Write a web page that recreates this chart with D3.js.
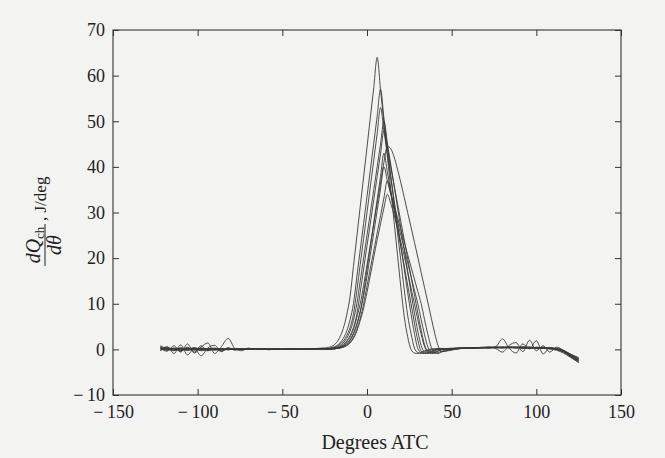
<!DOCTYPE html>
<html>
<head>
<meta charset="utf-8">
<script src="https://cdn.jsdelivr.net/npm/d3@7"></script>
<style>
  html, body { margin: 0; padding: 0; background: #f3f3f1; }
  svg { display: block; }
  .axis text { font-family: "Liberation Serif", "Times New Roman", serif; font-size: 18px; fill: #222; }
  .axis line { stroke: #333; }
  .axis path { display: none; }
  .label { font-family: "Liberation Serif", "Times New Roman", serif; fill: #222; }
</style>
</head>
<body>
<div class="chart"></div>
<script>
let outerWidth = 665
let outerHeight = 458

// crank angle grid (deg ATC), finer near the burn
const crankAngle = [-122, -118, -114, -110, -106, -102, -98, -94, -90, -86, -82, -78, -74, -70, -66, -62, -58, -54, -50, -46, -42, -38, -34, -30, -26,
  -24, -22, -20, -18, -16, -14, -12, -10, -8, -6, -4, -2, 0, 2, 4, 6, 8, 10, 12, 14, 16, 18, 20, 22, 24, 26, 28, 30, 32, 34, 36, 38, 40, 42, 44,
  48, 52, 56, 60, 64, 68, 72, 76, 80, 84, 88, 92, 96, 100, 104, 108, 112, 116, 120, 125]

// heat release rate, J/deg, one array per cycle
const cycle1 = [0.8, 0.1, -0.3, 0.4, -0.2, 0.3, 0.0, -0.3, 0.2, 0.1, -0.1, 0.2, 0.0, 0.1, 0.0, 0.1, 0.0, 0.1, 0.0, 0.1, 0.1, 0.0, 0.1, 0.2, 0.3,
  0.35, 0.5, 0.8, 1.5, 2.7, 4.6, 7.5, 11.6, 18.2, 24.7, 31.3, 37.8, 44.3, 50.9, 57.4, 64, 56.8, 49.6, 42.4, 35.2, 28, 20.8, 13.6, 7.2, 2.8, 0, -0.8, -0.9, -0.6, -0.3, -0.1, 0.1, 0.1, 0.2, 0.2,
  0.2, 0.3, 0.3, 0.4, 0.3, 0.4, 0.5, 0.4, 0.5, 0.4, 0.5, 0.3, 0.4, 0.3, 0.2, 0.3, 0.0, -0.4, -1.2, -2.2]
const cycle2 = [0.2, -0.4, 0.8, -0.6, 1.2, -0.8, 0.5, 1.4, -0.9, 0.6, 2.4, 0.2, -0.3, 0.3, 0.0, 0.2, -0.1, 0.1, 0.0, 0.1, 0.0, 0.1, 0.1, 0.1, 0.2,
  0.15, 0.25, 0.45, 0.8, 1.4, 2.4, 4, 6.5, 10, 15.9, 21.8, 27.6, 33.5, 39.4, 45.2, 51.1, 57, 50.7, 44.5, 38.2, 31.9, 25.7, 19.4, 13.1, 7.5, 3.5, 0.3, -0.7, -0.9, -0.6, -0.3, 0, 0.1, 0.1, 0.2,
  0.1, 0.2, 0.3, 0.4, 0.3, 0.5, 0.4, 0.6, 2.3, 0.2, -0.8, 1.2, 0.1, 1.9, -1.0, 0.4, 0.2, -0.3, -1.5, -2.6]
const cycle3 = [-0.2, 0.6, -0.9, 1.0, -1.2, 0.2, -1.4, 0.3, 0.9, -0.5, 0.4, -0.2, 0.2, 0.0, 0.1, 0.0, 0.1, 0.1, 0.0, 0.1, 0.0, 0.1, 0.0, 0.1, 0.2,
  0.1, 0.2, 0.35, 0.6, 1.1, 1.8, 3, 4.8, 7.7, 12.9, 18.6, 24.3, 30, 35.8, 41.5, 47.3, 53, 47.9, 42.9, 37.8, 32.8, 27.7, 22.6, 17.6, 12.5, 7.8, 3.5, 0.2, -0.7, -0.9, -0.6, -0.3, -0.1, 0.1, 0.1,
  0.0, 0.2, 0.2, 0.3, 0.4, 0.3, 0.5, 0.2, -0.6, 0.9, 1.5, -0.5, 2.0, -0.3, 0.8, -0.6, 0.5, -0.2, -1.0, -2.0]
const cycle4 = [0.5, 0.0, 0.2, -0.3, 0.3, 0.0, 0.2, -0.1, 0.1, 0.2, 0.0, 0.1, 0.1, 0.0, 0.1, 0.0, 0.0, 0.1, 0.0, 0.1, 0.0, 0.0, 0.1, 0.1, 0.2,
  0.1, 0.15, 0.25, 0.45, 0.8, 1.4, 2.4, 4, 6.4, 10, 15, 20, 25, 30, 35, 40, 45, 50, 45.3, 40.6, 35.9, 31.2, 26.5, 21.8, 17.1, 12.4, 8, 4, 0.8, -0.6, -0.9, -0.6, -0.3, 0, 0.1,
  0.1, 0.2, 0.3, 0.3, 0.4, 0.4, 0.3, 0.5, 0.4, 0.5, 0.3, 0.6, 0.4, 0.3, 0.5, 0.2, 0.1, -0.5, -1.4, -2.5]
const cycle5 = [-0.3, 0.3, 0.1, -0.4, 0.5, -0.6, 0.8, -0.3, 0.2, -0.4, 0.1, 0.0, 0.1, 0.0, 0.0, 0.1, 0.0, 0.0, 0.1, 0.0, 0.0, 0.1, 0.0, 0.1, 0.1,
  0.1, 0.1, 0.2, 0.35, 0.6, 1.1, 1.8, 3, 4.8, 7.7, 12.5, 17.6, 22.7, 27.7, 32.8, 37.9, 42.9, 48, 44, 40, 36, 32, 28, 24, 20, 16, 12, 8, 4.2, 1, -0.5, -0.9, -0.7, -0.4, -0.1,
  0.2, 0.1, 0.3, 0.3, 0.3, 0.4, 0.4, 0.3, 0.5, 0.4, 0.4, 0.5, 0.3, 0.4, 0.2, 0.3, 0.0, -0.6, -1.6, -2.8]
const cycle6 = [0.6, -0.1, 0.2, 0.0, -0.2, 0.1, 0.3, 0.0, -0.2, 0.0, 0.2, 0.1, 0.0, 0.1, 0.0, 0.1, 0.1, 0.0, 0.0, 0.1, 0.0, 0.0, 0.0, 0.1, 0.1,
  0.05, 0.1, 0.2, 0.3, 0.5, 0.9, 1.6, 2.7, 4.4, 7, 10, 14, 18.5, 23, 27.5, 32, 36.5, 41, 44.5, 44, 42.2, 39.5, 36.5, 33.3, 30, 26.8, 23.5, 20.2, 16.8, 13.5, 10.2, 6.8, 3.5, 0.8, -0.5,
  -0.3, 0.0, 0.2, 0.3, 0.3, 0.4, 0.5, 0.4, 0.3, 0.6, 0.4, 0.3, 0.5, 0.2, 0.4, 0.1, 0.2, -0.2, -1.0, -1.8]
const cycle7 = [0.0, 0.2, -0.2, 0.1, 0.0, 0.4, -0.1, 0.2, 0.0, -0.1, 0.1, 0.0, 0.1, 0.0, 0.1, 0.0, 0.0, 0.0, 0.1, 0.0, 0.1, 0.0, 0.0, 0.1, 0.1,
  0.05, 0.1, 0.1, 0.2, 0.4, 0.7, 1.2, 2, 3.4, 5.4, 8.2, 12.4, 17.5, 22.6, 27.7, 32.8, 37.9, 43, 38.9, 34.8, 30.6, 26.5, 22.4, 18.3, 14.1, 10, 5.8, 2, -0.4, -0.9, -0.8, -0.5, -0.2, 0, 0.1,
  0.2, 0.2, 0.3, 0.2, 0.4, 0.3, 0.4, 0.5, 0.4, 0.3, 0.5, 0.4, 0.2, 0.4, 0.3, 0.1, -0.2, -0.8, -1.7, -2.9]
const cycle8 = [0.4, -0.2, 0.3, 0.1, -0.1, 0.0, -0.3, 0.1, 0.3, 0.0, 0.0, 0.1, 0.0, 0.0, 0.1, 0.0, 0.1, 0.0, 0.0, 0.0, 0.1, 0.0, 0.0, 0.0, 0.1,
  0.05, 0.1, 0.1, 0.2, 0.4, 0.7, 1.2, 2.1, 3.5, 5.6, 8.3, 11.8, 16, 20.8, 25.6, 30.4, 35.2, 40, 37, 34, 31, 28, 25, 22, 19, 16, 13, 10, 6.5, 3.2, 0.5, -0.6, -0.9, -0.7, -0.4,
  -0.1, 0.1, 0.2, 0.3, 0.3, 0.4, 0.3, 0.4, 0.5, 0.4, 0.3, 0.4, 0.5, 0.3, 0.2, 0.3, 0.1, -0.4, -1.2, -2.3]
const cycle9 = [0.3, 0.0, 0.1, -0.2, 0.2, 0.1, -0.1, 0.0, 0.1, -0.2, 0.1, 0.0, 0.0, 0.1, 0.0, 0.0, 0.0, 0.1, 0.0, 0.0, 0.0, 0.0, 0.1, 0.0, 0.1,
  0.05, 0.1, 0.1, 0.2, 0.3, 0.5, 0.9, 1.6, 2.7, 4.4, 6.8, 10, 13.9, 17.8, 21.6, 25.5, 29.3, 33.2, 37, 34.3, 31.6, 28.9, 26.2, 23.5, 20.8, 18.1, 15.4, 12.7, 10, 6.5, 3.2, 0.4, -0.6, -0.9, -0.6,
  -0.2, 0.0, 0.2, 0.2, 0.3, 0.3, 0.4, 0.4, 0.3, 0.5, 0.4, 0.3, 0.4, 0.4, 0.3, 0.2, 0.0, -0.5, -1.3, -2.4]
const cycle10 = [0.1, 0.4, -0.1, 0.2, 0.1, -0.2, 0.2, 0.1, 0.0, 0.2, -0.1, 0.1, 0.0, 0.0, 0.0, 0.1, 0.0, 0.0, 0.0, 0.1, 0.0, 0.0, 0.0, 0.0, 0.1,
  0.05, 0.1, 0.1, 0.2, 0.3, 0.5, 0.8, 1.4, 2.4, 4, 6.3, 9, 12.5, 16.3, 20.2, 24, 27.5, 31, 34, 32, 29.5, 26.5, 23.5, 20.5, 17, 13.5, 10, 6.5, 3.3, 0.6, -0.5, -0.8, -0.6, -0.3, 0,
  0.1, 0.2, 0.2, 0.3, 0.3, 0.4, 0.3, 0.5, 0.4, 0.4, 0.5, 0.3, 0.2, 0.5, 0.3, 0.2, 0.0, -0.3, -1.1, -2.1]

const cycles = [cycle1, cycle2, cycle3, cycle4, cycle5, cycle6, cycle7, cycle8, cycle9, cycle10]

const xTicks = [-150, -100, -50, 0, 50, 100, 150]
const yTicks = [-10, 0, 10, 20, 30, 40, 50, 60, 70]

const plot = {left: 113, right: 621, top: 30, bottom: 395}

const svg = d3.select(".chart")
    .append("svg")
    .attr("width", outerWidth)
    .attr("height", outerHeight)

const xScale = d3.scaleLinear()
    .domain([-150, 150])
    .range([plot.left, plot.right])

const yScale = d3.scaleLinear()
    .domain([-10, 70])
    .range([plot.bottom, plot.top])

// frame
svg.append("rect")
    .attr("x", plot.left)
    .attr("y", plot.top)
    .attr("width", plot.right - plot.left)
    .attr("height", plot.bottom - plot.top)
    .attr("fill", "none")
    .attr("stroke", "#333")
    .attr("stroke-width", 1.1)

// book style minus with a thin gap
const fmt = d => d < 0 ? "\u2212\u2009" + Math.abs(d) : String(d)

svg.append("g")
    .attr("class", "axis x-axis")
    .attr("transform", `translate(0, ${plot.bottom})`)
    .call(d3.axisBottom(xScale).tickValues(xTicks).tickFormat(fmt).tickSizeInner(-6).tickSizeOuter(0).tickPadding(10))

svg.append("g")
    .attr("class", "axis")
    .attr("transform", `translate(0, ${plot.top})`)
    .call(d3.axisTop(xScale).tickValues(xTicks).tickFormat("").tickSizeInner(-6).tickSizeOuter(0))

svg.append("g")
    .attr("class", "axis y-axis")
    .attr("transform", `translate(${plot.left}, 0)`)
    .call(d3.axisLeft(yScale).tickValues(yTicks).tickFormat(fmt).tickSizeInner(-6).tickSizeOuter(0).tickPadding(8))

svg.append("g")
    .attr("class", "axis")
    .attr("transform", `translate(${plot.right}, 0)`)
    .call(d3.axisRight(yScale).tickValues(yTicks).tickFormat("").tickSizeInner(-6).tickSizeOuter(0))

const line = d3.line()
    .x((d, i) => xScale(crankAngle[i]))
    .y(d => yScale(d))
    .curve(d3.curveMonotoneX)

svg.append("g")
    .selectAll("path")
    .data(cycles)
    .enter()
    .append("path")
    .attr("d", d => line(d.slice(0, crankAngle.length)))
    .attr("fill", "none")
    .attr("stroke", "#3a3a3a")
    .attr("stroke-width", 0.9)
    .attr("stroke-linejoin", "round")

// x label
svg.append("text")
    .attr("class", "label")
    .attr("x", 375)
    .attr("y", 449)
    .attr("text-anchor", "middle")
    .attr("font-size", 20)
    .text("Degrees ATC")

// y label: dQch/dθ , J/deg
const yl = svg.append("g")
    .attr("class", "label")
    .attr("transform", "translate(45, 245) rotate(-90)")
    .attr("font-size", 20)

const num = yl.append("text")
    .attr("x", 0)
    .attr("y", -5)
    .attr("text-anchor", "middle")
num.append("tspan").attr("font-style", "italic").text("dQ")
num.append("tspan").attr("font-size", 13).attr("dy", 4).text("ch")

yl.append("line")
    .attr("x1", -21)
    .attr("x2", 21)
    .attr("y1", 0)
    .attr("y2", 0)
    .attr("stroke", "#222")
    .attr("stroke-width", 1)

yl.append("text")
    .attr("x", 0)
    .attr("y", 16)
    .attr("text-anchor", "middle")
    .attr("font-style", "italic")
    .text("d\u03B8")

yl.append("text")
    .attr("x", 24)
    .attr("y", 1)
    .attr("font-size", 17)
    .text(", J/deg")
</script>
</body>
</html>
